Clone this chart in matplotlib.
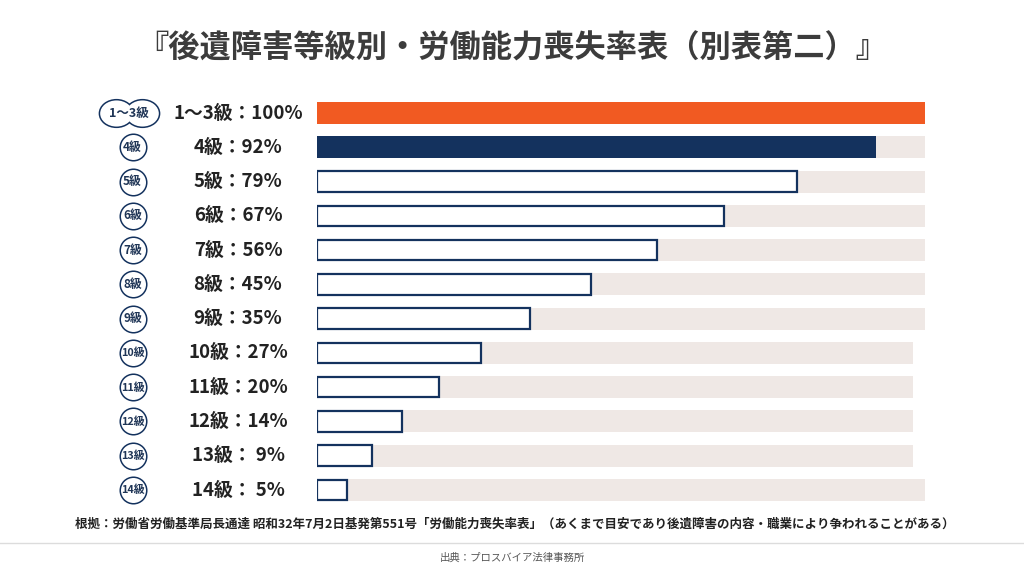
"""Recreate the 後遺障害等級別 労働能力喪失率表 bar chart."""

import matplotlib
matplotlib.use("Agg")
import matplotlib.pyplot as plt
from matplotlib.lines import Line2D
from matplotlib.path import Path
from matplotlib.transforms import Affine2D, blended_transform_factory

plt.rcParams["font.family"] = ["Noto Sans CJK JP", "DejaVu Sans"]

# Data
grades = ["1〜3級", "4級", "5級", "6級", "7級", "8級", "9級",
          "10級", "11級", "12級", "13級", "14級"]
rates = [100, 92, 79, 67, 56, 45, 35, 27, 20, 14, 9, 5]
labels = ["1〜3級：100%", "4級：92%", "5級：79%", "6級：67%", "7級：56%",
          "8級：45%", "9級：35%", "10級：27%", "11級：20%", "12級：14%",
          "13級： 9%", "14級： 5%"]
track_len = [100, 100, 100, 100, 100, 100, 100, 98, 98, 98, 98, 100]

title = "『後遺障害等級別・労働能力喪失率表（別表第二）』"
note = ("根拠：労働省労働基準局長通達 昭和32年7月2日基発第551号「労働能力喪失率表」"
        "（あくまで目安であり後遺障害の内容・職業により争われることがある）")
source = "出典：プロスバイア法律事務所"

ORANGE = "#f15a22"
NAVY = "#14325e"
TRACK = "#efe8e5"

W, H = 1024, 572
fig = plt.figure(figsize=(W / 100, H / 100), dpi=100)
fig.patch.set_facecolor("white")

# Bar area: first row centred at y=113px, last at y=490px
n = len(rates)
step = (490 - 113) / (n - 1)
top_px = 113 - step / 2
bot_px = 490 + step / 2
ax = fig.add_axes([317 / W, 1 - bot_px / H, 608 / W, (bot_px - top_px) / H])

ypos = list(range(n))
ax.barh(ypos, track_len, height=0.64, color=TRACK, zorder=1)

for i, (r, y) in enumerate(zip(rates, ypos)):
    if i == 0:
        ax.barh(y, r, height=0.64, color=ORANGE, zorder=2)
    elif i == 1:
        ax.barh(y, r, height=0.64, color=NAVY, zorder=2)
    else:
        ax.barh(y, r, height=0.6, color="white", edgecolor=NAVY,
                linewidth=1.6, zorder=2)

# Labels and circular badges on the left
trans = blended_transform_factory(fig.transFigure, ax.transData)
oval = Path.unit_circle().transformed(Affine2D().scale(1.25, 1.0))


def badge(xs, y, marker, size):
    # thick outline first, then a plain white fill on top: only the outer
    # half of the stroke stays visible, which gives the outline of the union
    for x in xs:
        ax.plot(x, y, marker=marker, markersize=size, markeredgewidth=2.2,
                markeredgecolor=NAVY, markerfacecolor="white",
                transform=trans, clip_on=False, zorder=3)
    for x in xs:
        ax.plot(x, y, marker=marker, markersize=size, markeredgewidth=0,
                markerfacecolor="white", transform=trans, clip_on=False,
                zorder=4)


for i, (g, lab, y) in enumerate(zip(grades, labels, ypos)):
    ax.text(238 / W, y, lab, transform=trans, ha="center", va="center",
            fontsize=13.5, fontweight="bold", color="#222222", clip_on=False)
    if i == 0:
        badge([116 / W, 142 / W], y, oval, 23.5)
        cx, fs = 129 / W, 9
    else:
        badge([132.5 / W], y, "o", 18)
        cx, fs = 132.5 / W, (8.5 if len(g) == 2 else 7.8)
    ax.text(cx, y, g, transform=trans, ha="center", va="center",
            fontsize=fs, fontweight="bold", color="#1f3556", zorder=5,
            clip_on=False)

ax.set_xlim(0, 100)
ax.set_ylim(n - 0.5, -0.5)
ax.axis("off")

# Title, note and source
fig.text(0.5, 1 - 49 / H, title, ha="center", va="center", fontsize=22.5,
         fontweight="bold", color="#3c3c3c")
fig.text(75 / W, 1 - 524 / H, note, ha="left", va="center", fontsize=9,
         fontweight="bold", color="#222222")
fig.add_artist(Line2D([0, 1], [1 - 543 / H] * 2, color="#dcdcdc",
                      linewidth=1, transform=fig.transFigure))
fig.text(0.5, 1 - 558 / H, source, ha="center", va="center", fontsize=7.5,
         color="#555555")

fig.savefig("out.png", dpi=100)
